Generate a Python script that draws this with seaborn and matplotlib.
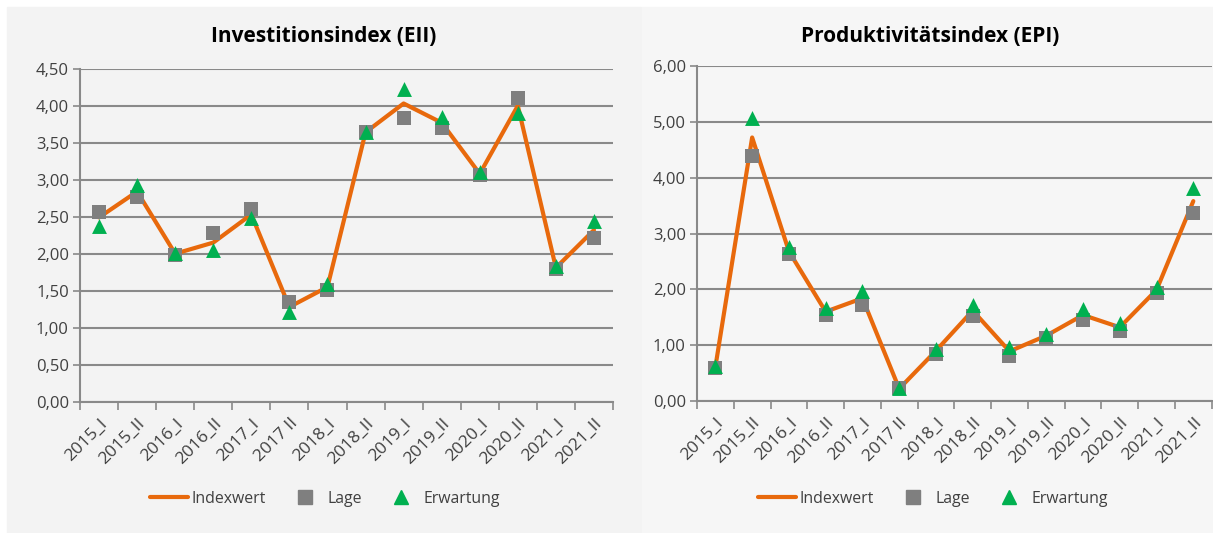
import pandas as pd
import matplotlib.pyplot as plt
import seaborn as sns
from matplotlib.lines import Line2D
from matplotlib.patches import Rectangle
from matplotlib.ticker import FuncFormatter, MultipleLocator, FixedLocator

# Daten
perioden = ['2015_I', '2015_II', '2016_I', '2016_II', '2017_I', '2017 II', '2018_I',
            '2018_II', '2019_I', '2019_II', '2020_I', '2020_II', '2021_I', '2021_II']

eii_index = [2.49, 2.84, 2.00, 2.15, 2.53, 1.28, 1.55, 3.64, 4.03, 3.77, 3.08, 4.00, 1.81, 2.32]
eii_lage = [2.57, 2.76, 1.98, 2.28, 2.60, 1.35, 1.51, 3.64, 3.84, 3.70, 3.06, 4.10, 1.79, 2.21]
eii_erwartung = [2.38, 2.93, 2.01, 2.05, 2.48, 1.21, 1.59, 3.64, 4.22, 3.85, 3.10, 3.90, 1.84, 2.44]

epi_index = [0.61, 4.72, 2.68, 1.60, 1.84, 0.22, 0.90, 1.62, 0.89, 1.17, 1.54, 1.32, 1.99, 3.58]
epi_lage = [0.60, 4.39, 2.63, 1.54, 1.72, 0.23, 0.85, 1.52, 0.81, 1.13, 1.45, 1.25, 1.94, 3.36]
epi_erwartung = [0.63, 5.07, 2.75, 1.66, 1.97, 0.23, 0.94, 1.72, 0.97, 1.20, 1.64, 1.39, 2.05, 3.81]

ORANGE = '#E8690C'
GRAU = '#7F7F7F'
GRUEN = '#00B050'
TEXT = '#404040'
ACHSE = '#898989'

sns.set_theme(style='white')
plt.rcParams['font.family'] = ['Open Sans', 'DejaVu Sans']

fig = plt.figure(figsize=(12.13, 5.33), dpi=100)
fig.patch.set_facecolor('white')

# Hintergrundflaechen der beiden Diagramme (hinter den Achsen)
fig.patches.append(Rectangle((7 / 1213, 0), 634 / 1213, 1 - 7 / 533,
                             transform=fig.transFigure, color='#F3F3F3', zorder=-10))
fig.patches.append(Rectangle((642 / 1213, 0), 571 / 1213, 1 - 7 / 533,
                             transform=fig.transFigure, color='#F6F6F6', zorder=-10))

komma = FuncFormatter(lambda v, p: f'{v:.2f}'.replace('.', ','))


def zeichne(pos, titel, title_x, index, lage, erwartung, ymax, ystep, bg, legend_x):
    ax = fig.add_axes(pos, zorder=1)
    ax.set_facecolor(bg)
    df = pd.DataFrame({'Periode': perioden, 'Indexwert': index,
                       'Lage': lage, 'Erwartung': erwartung})

    sns.lineplot(data=df, x='Periode', y='Indexwert', sort=False, color=ORANGE,
                 linewidth=3, ax=ax, zorder=3)
    sns.scatterplot(data=df, x='Periode', y='Lage', marker='s', s=110, color=GRAU,
                    linewidth=0, ax=ax, zorder=4)
    sns.scatterplot(data=df, x='Periode', y='Erwartung', marker='^', s=115, color=GRUEN,
                    linewidth=0, ax=ax, zorder=5)

    ax.set_xlim(-0.5, len(perioden) - 0.5)
    ax.set_ylim(0, ymax)
    ax.yaxis.set_major_locator(MultipleLocator(ystep))
    ax.yaxis.set_major_formatter(komma)
    ax.grid(axis='y', color=ACHSE, linewidth=1.5)
    ax.grid(axis='x', visible=False)
    ax.set_axisbelow(True)

    for s in ['top', 'right']:
        ax.spines[s].set_visible(False)
    for s in ['left', 'bottom']:
        ax.spines[s].set_color(ACHSE)
        ax.spines[s].set_linewidth(1.5)

    ax.set_xlabel('')
    ax.set_ylabel('')
    ax.tick_params(axis='y', length=5, width=1.2, color=ACHSE, labelsize=12,
                   labelcolor=TEXT, pad=3, left=True)
    ax.set_xticks(range(len(perioden)))
    ax.set_xticklabels(perioden, rotation=45, ha='right', rotation_mode='anchor')
    ax.tick_params(axis='x', which='major', length=0, labelsize=12.5, labelcolor=TEXT, pad=10)
    ax.xaxis.set_minor_locator(FixedLocator([i - 0.5 for i in range(len(perioden) + 1)]))
    ax.tick_params(axis='x', which='minor', length=6, width=1.2, color=ACHSE, bottom=True)

    fig.text(title_x, 1 - 36 / 533, titel, ha='center', va='center',
             fontsize=15, fontweight='bold', color='black')

    handles = [
        Line2D([], [], color=ORANGE, linewidth=3),
        Line2D([], [], color=GRAU, marker='s', markersize=10, linestyle=''),
        Line2D([], [], color=GRUEN, marker='^', markersize=10, linestyle=''),
    ]
    fig.legend(handles, ['Indexwert', 'Lage', 'Erwartung'], loc='center',
               bbox_to_anchor=(legend_x, 1 - 499 / 533), ncol=3, frameon=False,
               fontsize=11.4, labelcolor=TEXT, handlelength=2.4, handletextpad=0.2,
               columnspacing=1.3)
    return ax


zeichne([80 / 1213, 131.3 / 533, 533 / 1213, 333 / 533], 'Investitionsindex (EII)',
        324 / 1213, eii_index, eii_lage, eii_erwartung, 4.5, 0.5, '#F3F3F3', 325 / 1213)
zeichne([697 / 1213, 132 / 533, 514.7 / 1213, 335 / 533], 'Produktivitätsindex (EPI)',
        930 / 1213, epi_index, epi_lage, epi_erwartung, 6, 1, '#F6F6F6', 933 / 1213)

plt.savefig('out.png', dpi=100, facecolor='white')
